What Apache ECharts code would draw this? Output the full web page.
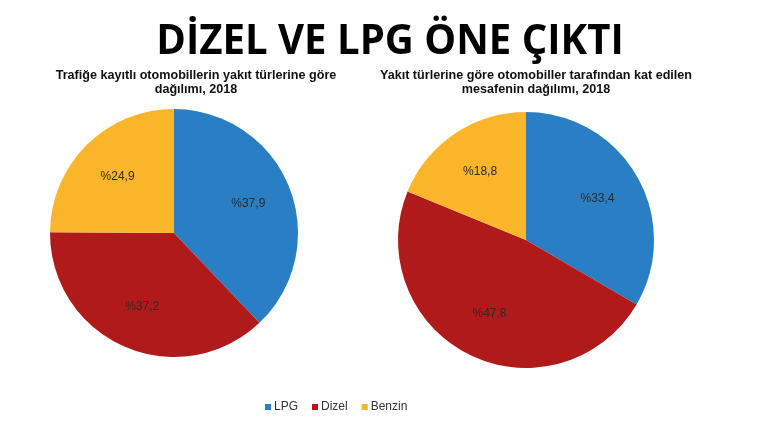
<!DOCTYPE html>
<html>
<head>
<meta charset="utf-8">
<script src="https://cdn.jsdelivr.net/npm/echarts@6/dist/echarts.min.js"></script>
<style>
  html, body { margin: 0; padding: 0; background: #fff; }
  #chart { width: 771px; height: 431px; }
</style>
</head>
<body>
<div id="chart"></div>
<script>
var categories = ['LPG', 'Dizel', 'Benzin'];
var kayitliValues = [37.9, 37.2, 24.9];
var mesafeValues = [33.4, 47.8, 18.8];
var colors = ['#2a7fc4', '#b01a1a', '#fbb52b'];

var mainTitle = 'DİZEL VE LPG ÖNE ÇIKTI';
var leftTitle = 'Trafiğe kayıtlı otomobillerin yakıt türlerine göre\ndağılımı, 2018';
var rightTitle = 'Yakıt türlerine göre otomobiller tarafından kat edilen\nmesafenin dağılımı, 2018';

function toData(values) {
  return categories.map(function (name, i) {
    return { name: name, value: values[i] };
  });
}

function fmt(p) {
  return '%' + p.value.toFixed(1).replace('.', ',');
}

// pie slices
function slices(values, center, r) {
  return {
    type: 'pie',
    center: center,
    radius: [0, r],
    startAngle: 90,
    clockwise: true,
    silent: true,
    label: { show: false },
    labelLine: { show: false },
    itemStyle: { borderWidth: 0 },
    data: toData(values)
  };
}

// transparent ring, only used to put labels a bit further out
function labels(values, center, r0, r) {
  return {
    type: 'pie',
    center: center,
    radius: [r0, r],
    startAngle: 90,
    clockwise: true,
    silent: true,
    itemStyle: { color: 'rgba(0,0,0,0)' },
    label: {
      show: true,
      position: 'inside',
      formatter: fmt,
      color: '#2b2b2b',
      fontFamily: 'Liberation Sans, Arial, sans-serif',
      fontSize: 12
    },
    labelLine: { show: false },
    data: toData(values)
  };
}

var subStyle = {
  fontFamily: 'Liberation Sans, Arial, sans-serif',
  fontSize: 12.6,
  fontWeight: 'bold',
  lineHeight: 14,
  color: '#111'
};

var myChart = echarts.init(document.getElementById('chart'));

var option = {
  animation: false,
  color: colors,
  title: [
    { text: leftTitle, left: 191, top: 64, textAlign: 'center', textStyle: subStyle },
    { text: rightTitle, left: 531, top: 64, textAlign: 'center', textStyle: subStyle }
  ],
  graphic: [
    {
      type: 'text',
      x: 390,
      y: 42,
      scaleX: 0.955,
      style: {
        text: mainTitle,
        x: 0,
        y: 0,
        textAlign: 'center',
        textVerticalAlign: 'middle',
        fill: '#000',
        font: 'bold 42px "Open Sans", sans-serif'
      }
    }
  ],
  legend: {
    data: categories,
    left: 260,
    top: 396,
    icon: 'rect',
    itemWidth: 6,
    itemHeight: 6,
    itemGap: 14,
    selectedMode: false,
    textStyle: {
      fontFamily: 'Liberation Sans, Arial, sans-serif',
      fontSize: 12,
      color: '#333',
      padding: [0, 0, 0, -2]
    }
  },
  series: [
    slices(kayitliValues, [174, 233], 124),
    slices(mesafeValues, [526, 240], 128),
    labels(kayitliValues, [174, 233], 30, 124),
    labels(mesafeValues, [526, 240], 31, 128)
  ]
};

myChart.setOption(option);
</script>
</body>
</html>
